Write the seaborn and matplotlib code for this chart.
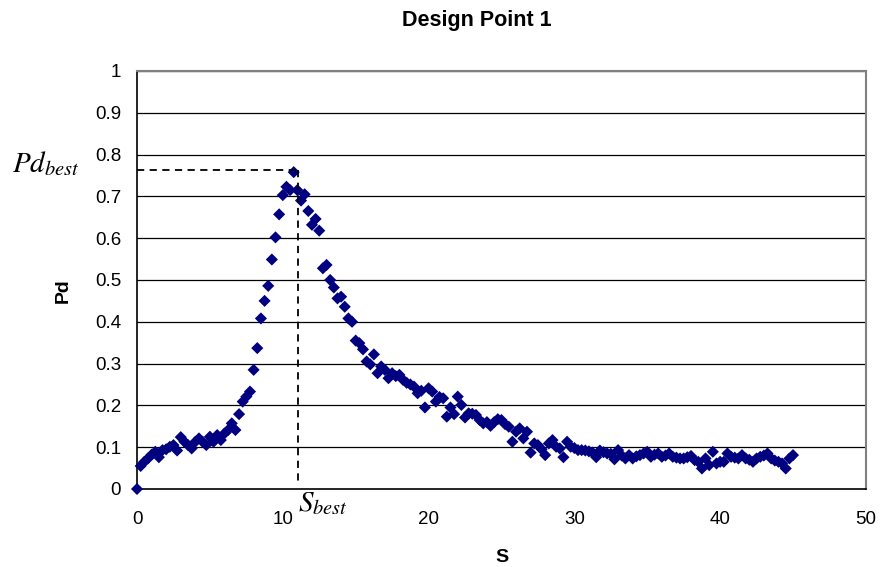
import matplotlib
matplotlib.use("Agg")
import matplotlib.pyplot as plt
import seaborn as sns
import pandas as pd

sns.set_style("white")
plt.rcParams["font.family"] = ["Liberation Sans", "DejaVu Sans"]
plt.rcParams["mathtext.fontset"] = "stix"
plt.rcParams["text.color"] = "black"
plt.rcParams["xtick.color"] = "black"
plt.rcParams["ytick.color"] = "black"

# values
S_VALUES = [
    0.0, 0.25, 0.5, 0.75, 1.0, 1.25, 1.5, 1.75,
    2.0, 2.25, 2.5, 2.75, 3.0, 3.25, 3.5, 3.75,
    4.0, 4.25, 4.5, 4.75, 5.0, 5.25, 5.5, 5.75,
    6.0, 6.25, 6.5, 6.75, 7.0, 7.25, 7.5, 7.75,
    8.0, 8.25, 8.5, 8.75, 9.0, 9.25, 9.5, 9.75,
    10.0, 10.25, 10.5, 10.75, 11.0, 11.25, 11.5, 11.75,
    12.0, 12.25, 12.5, 12.75, 13.0, 13.25, 13.5, 13.75,
    14.0, 14.25, 14.5, 14.75, 15.0, 15.25, 15.5, 15.75,
    16.0, 16.25, 16.5, 16.75, 17.0, 17.25, 17.5, 17.75,
    18.0, 18.25, 18.5, 18.75, 19.0, 19.25, 19.5, 19.75,
    20.0, 20.25, 20.5, 20.75, 21.0, 21.25, 21.5, 21.75,
    22.0, 22.25, 22.5, 22.75, 23.0, 23.25, 23.5, 23.75,
    24.0, 24.25, 24.5, 24.75, 25.0, 25.25, 25.5, 25.75,
    26.0, 26.25, 26.5, 26.75, 27.0, 27.25, 27.5, 27.75,
    28.0, 28.25, 28.5, 28.75, 29.0, 29.25, 29.5, 29.75,
    30.0, 30.25, 30.5, 30.75, 31.0, 31.25, 31.5, 31.75,
    32.0, 32.25, 32.5, 32.75, 33.0, 33.25, 33.5, 33.75,
    34.0, 34.25, 34.5, 34.75, 35.0, 35.25, 35.5, 35.75,
    36.0, 36.25, 36.5, 36.75, 37.0, 37.25, 37.5, 37.75,
    38.0, 38.25, 38.5, 38.75, 39.0, 39.25, 39.5, 39.75,
    40.0, 40.25, 40.5, 40.75, 41.0, 41.25, 41.5, 41.75,
    42.0, 42.25, 42.5, 42.75, 43.0, 43.25, 43.5, 43.75,
    44.0, 44.25, 44.5, 44.75, 45.0,
]
PD_VALUES = [
    0.0, 0.055, 0.065, 0.073, 0.082, 0.089, 0.076, 0.093,
    0.095, 0.101, 0.105, 0.092, 0.124, 0.113, 0.105, 0.097,
    0.113, 0.121, 0.113, 0.105, 0.125, 0.113, 0.129, 0.117,
    0.133, 0.141, 0.157, 0.141, 0.179, 0.209, 0.221, 0.233,
    0.285, 0.337, 0.408, 0.45, 0.486, 0.549, 0.602, 0.657,
    0.703, 0.723, 0.715, 0.758, 0.715, 0.69, 0.705, 0.665,
    0.632, 0.646, 0.618, 0.528, 0.536, 0.5, 0.482, 0.456,
    0.46, 0.436, 0.408, 0.4, 0.355, 0.349, 0.334, 0.305,
    0.298, 0.322, 0.277, 0.293, 0.285, 0.265, 0.277, 0.27,
    0.273, 0.261, 0.254, 0.25, 0.245, 0.229, 0.235, 0.195,
    0.241, 0.233, 0.209, 0.22, 0.217, 0.173, 0.195, 0.179,
    0.221, 0.201, 0.171, 0.181, 0.18, 0.177, 0.165, 0.157,
    0.16, 0.151, 0.16, 0.167, 0.165, 0.155, 0.149, 0.113,
    0.137, 0.145, 0.121, 0.137, 0.087, 0.109, 0.105, 0.095,
    0.081, 0.109, 0.117, 0.101, 0.097, 0.076, 0.113, 0.101,
    0.098, 0.093, 0.093, 0.092, 0.09, 0.087, 0.076, 0.092,
    0.088, 0.085, 0.084, 0.071, 0.093, 0.08, 0.073, 0.081,
    0.073, 0.078, 0.081, 0.085, 0.089, 0.077, 0.082, 0.085,
    0.077, 0.08, 0.085, 0.077, 0.075, 0.073, 0.073, 0.076,
    0.079, 0.069, 0.065, 0.049, 0.073, 0.057, 0.089, 0.061,
    0.065, 0.065, 0.085, 0.077, 0.075, 0.073, 0.081, 0.073,
    0.07, 0.065, 0.073, 0.077, 0.08, 0.085, 0.073, 0.068,
    0.065, 0.061, 0.049, 0.073, 0.081,
]

S_BEST = 11.05
PD_BEST = 0.763

X_TICKS = [0, 10, 20, 30, 40, 50]
Y_TICKS = [0, 0.1, 0.2, 0.3, 0.4, 0.5, 0.6, 0.7, 0.8, 0.9, 1]
Y_TICK_LABELS = ["0", "0.1", "0.2", "0.3", "0.4", "0.5", "0.6", "0.7", "0.8", "0.9", "1"]

df = pd.DataFrame({"S": S_VALUES, "Pd": PD_VALUES})

fig = plt.figure(figsize=(8.8, 5.67), dpi=100)
ax = fig.add_axes([0.1557, 0.1376, 0.8283, 0.7372])

ax.set_ylim(0, 1)
ax.set_xlim(0, 50)
for y in Y_TICKS[1:]:
    ax.axhline(y, color="#000000", lw=0.9, zorder=1)

sns.scatterplot(data=df, x="S", y="Pd", marker="D", color="#000080",
                s=38, edgecolor="none", ax=ax, zorder=3, clip_on=False)

# dashed guides to the best point
ax.plot([0, S_BEST], [PD_BEST, PD_BEST], color="black", lw=1.3,
        dashes=(4, 3), zorder=4)
ax.plot([S_BEST, S_BEST], [PD_BEST, 0.02], color="black", lw=1.3,
        dashes=(4, 3), zorder=4)

ax.text(-8.6, 0.757, r"$Pd_{best}$", fontsize=21, ha="left", va="baseline")
ax.text(S_BEST, -0.052, r"$S_{best}$", fontsize=21, ha="left", va="baseline")

ax.set_xticks(X_TICKS)
ax.set_yticks(Y_TICKS)
ax.set_yticklabels(Y_TICK_LABELS)
ax.tick_params(axis="y", direction="inout", length=7, width=1, labelsize=13.5, pad=8)
ax.tick_params(axis="x", direction="out", length=4, width=1, labelsize=13.5, pad=12)
ax.set_xlabel("")
ax.set_ylabel("")

for side in ["left", "bottom"]:
    ax.spines[side].set_color("black")
    ax.spines[side].set_linewidth(1.2)
for side in ["right", "top"]:
    ax.spines[side].set_color("#808080")
    ax.spines[side].set_linewidth(1.5)

fig.text(0.5705, 0.0176, "S", fontsize=14, fontweight="bold", ha="center", va="center")
fig.text(0.0716, 0.4868, "Pd", fontsize=14, fontweight="bold", rotation=90,
         ha="center", va="center")
fig.text(0.5415, 0.963, "Design Point 1", fontsize=15.5, fontweight="bold",
         ha="center", va="center")

plt.savefig("out.png", dpi=100)
plt.close()
